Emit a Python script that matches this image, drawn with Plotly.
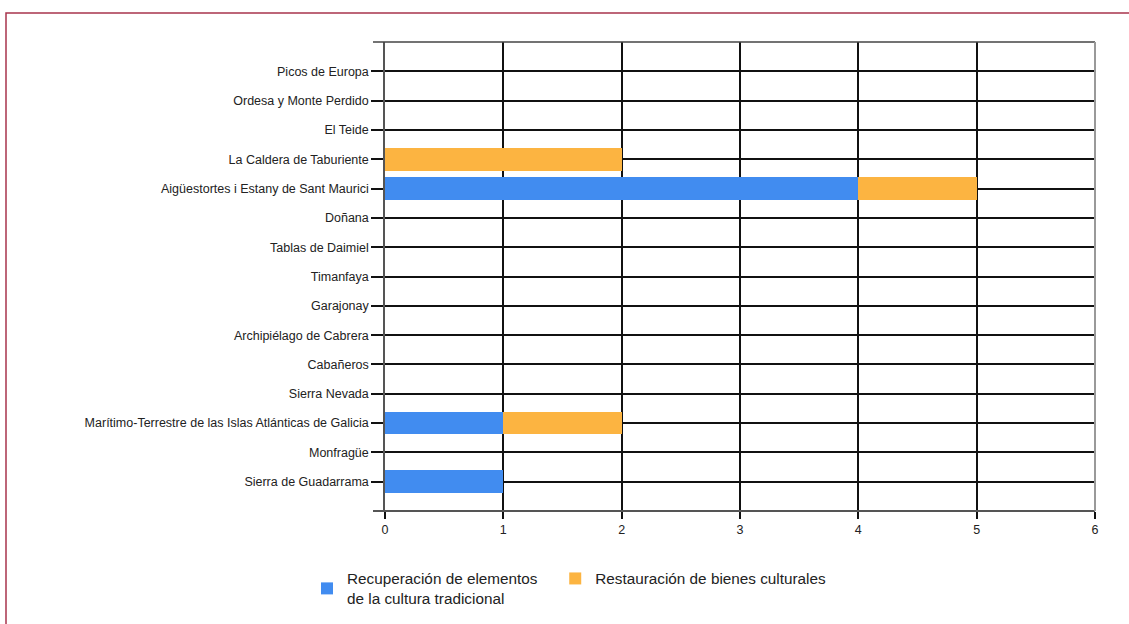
import plotly.graph_objects as go

categories = [
    "Picos de Europa", "Ordesa y Monte Perdido", "El Teide", "La Caldera de Taburiente",
    "Aigüestortes i Estany de Sant Maurici", "Doñana", "Tablas de Daimiel", "Timanfaya",
    "Garajonay", "Archipiélago de Cabrera", "Cabañeros", "Sierra Nevada",
    "Marítimo-Terrestre de las Islas Atlánticas de Galicia", "Monfragüe", "Sierra de Guadarrama",
]
recuperacion = [0, 0, 0, 0, 4, 0, 0, 0, 0, 0, 0, 0, 1, 0, 1]
restauracion = [0, 0, 0, 2, 1, 0, 0, 0, 0, 0, 0, 0, 1, 0, 0]
series_names = ["Recuperación de elementos<br>de la cultura tradicional",
                "Restauración de bienes culturales"]
x_ticks = [0, 1, 2, 3, 4, 5, 6]

W, H = 1129, 624
L, R, T, B = 385, 34, 42, 113
pw, ph = W - L - R, H - T - B

fig = go.Figure()
fig.add_trace(go.Bar(y=categories, x=recuperacion, orientation="h",
                     name=series_names[0].replace("<br>", "\u00a0\u00a0\u00a0<br>"),
                     marker=dict(color="#418CF0", line=dict(width=0))))
fig.add_trace(go.Bar(y=categories, x=restauracion, orientation="h", name=series_names[1],
                     marker=dict(color="#FCB441", line=dict(width=0))))

def px_x(p):
    return (p - L) / pw

def px_y(p):
    return 1 - (p - T) / ph

shapes = [
    dict(type="rect", xref="paper", yref="paper", x0=px_x(6), x1=px_x(1140), y0=px_y(640), y1=px_y(13),
         line=dict(color="#A8344C", width=1.5), fillcolor="rgba(0,0,0,0)", layer="below"),
    dict(type="line", xref="paper", yref="paper", x0=px_x(373), x1=1, y0=1, y1=1,
         line=dict(color="#444444", width=1.5)),
    dict(type="line", xref="paper", yref="paper", x0=px_x(373), x1=1, y0=0, y1=0,
         line=dict(color="#555555", width=2)),
    dict(type="line", xref="paper", yref="paper", x0=1, x1=1, y0=0, y1=1,
         line=dict(color="#999999", width=2)),
]

fig.update_layout(
    width=W, height=H, barmode="stack", bargap=0.22,
    margin=dict(l=L, r=R, t=T, b=B, pad=0, autoexpand=False),
    paper_bgcolor="white", plot_bgcolor="white",
    font=dict(family="Liberation Sans, Arial, sans-serif", size=12.5, color="#222222"),
    xaxis=dict(range=[0, 6], tickvals=x_ticks, showgrid=True, gridcolor="#111111", gridwidth=1.5,
               zeroline=False, showline=False, ticks="outside", ticklen=7, tickcolor="#111111",
               tickwidth=1.5, tickfont=dict(size=12.5, color="#222222"), fixedrange=True,
               automargin=False),
    yaxis=dict(categoryorder="array", categoryarray=categories, range=[15, -1],
               showgrid=True, gridcolor="#111111", gridwidth=1.5, zeroline=False,
               showline=True, linecolor="#555555", linewidth=1.5,
               ticks="outside", ticklen=12, tickcolor="#111111", tickwidth=1.5,
               tickfont=dict(size=12.5, color="#222222"), fixedrange=True, automargin=False),
    legend=dict(orientation="h", x=px_x(307), xanchor="left", y=px_y(562), yanchor="top",
                font=dict(size=15.3, color="#222222"), traceorder="normal", itemwidth=30),
    shapes=shapes,
    showlegend=True,
)

fig.write_html("out.html", config={"displayModeBar": False},
               post_script="document.body.style.margin='0';document.body.style.overflow='hidden';")
